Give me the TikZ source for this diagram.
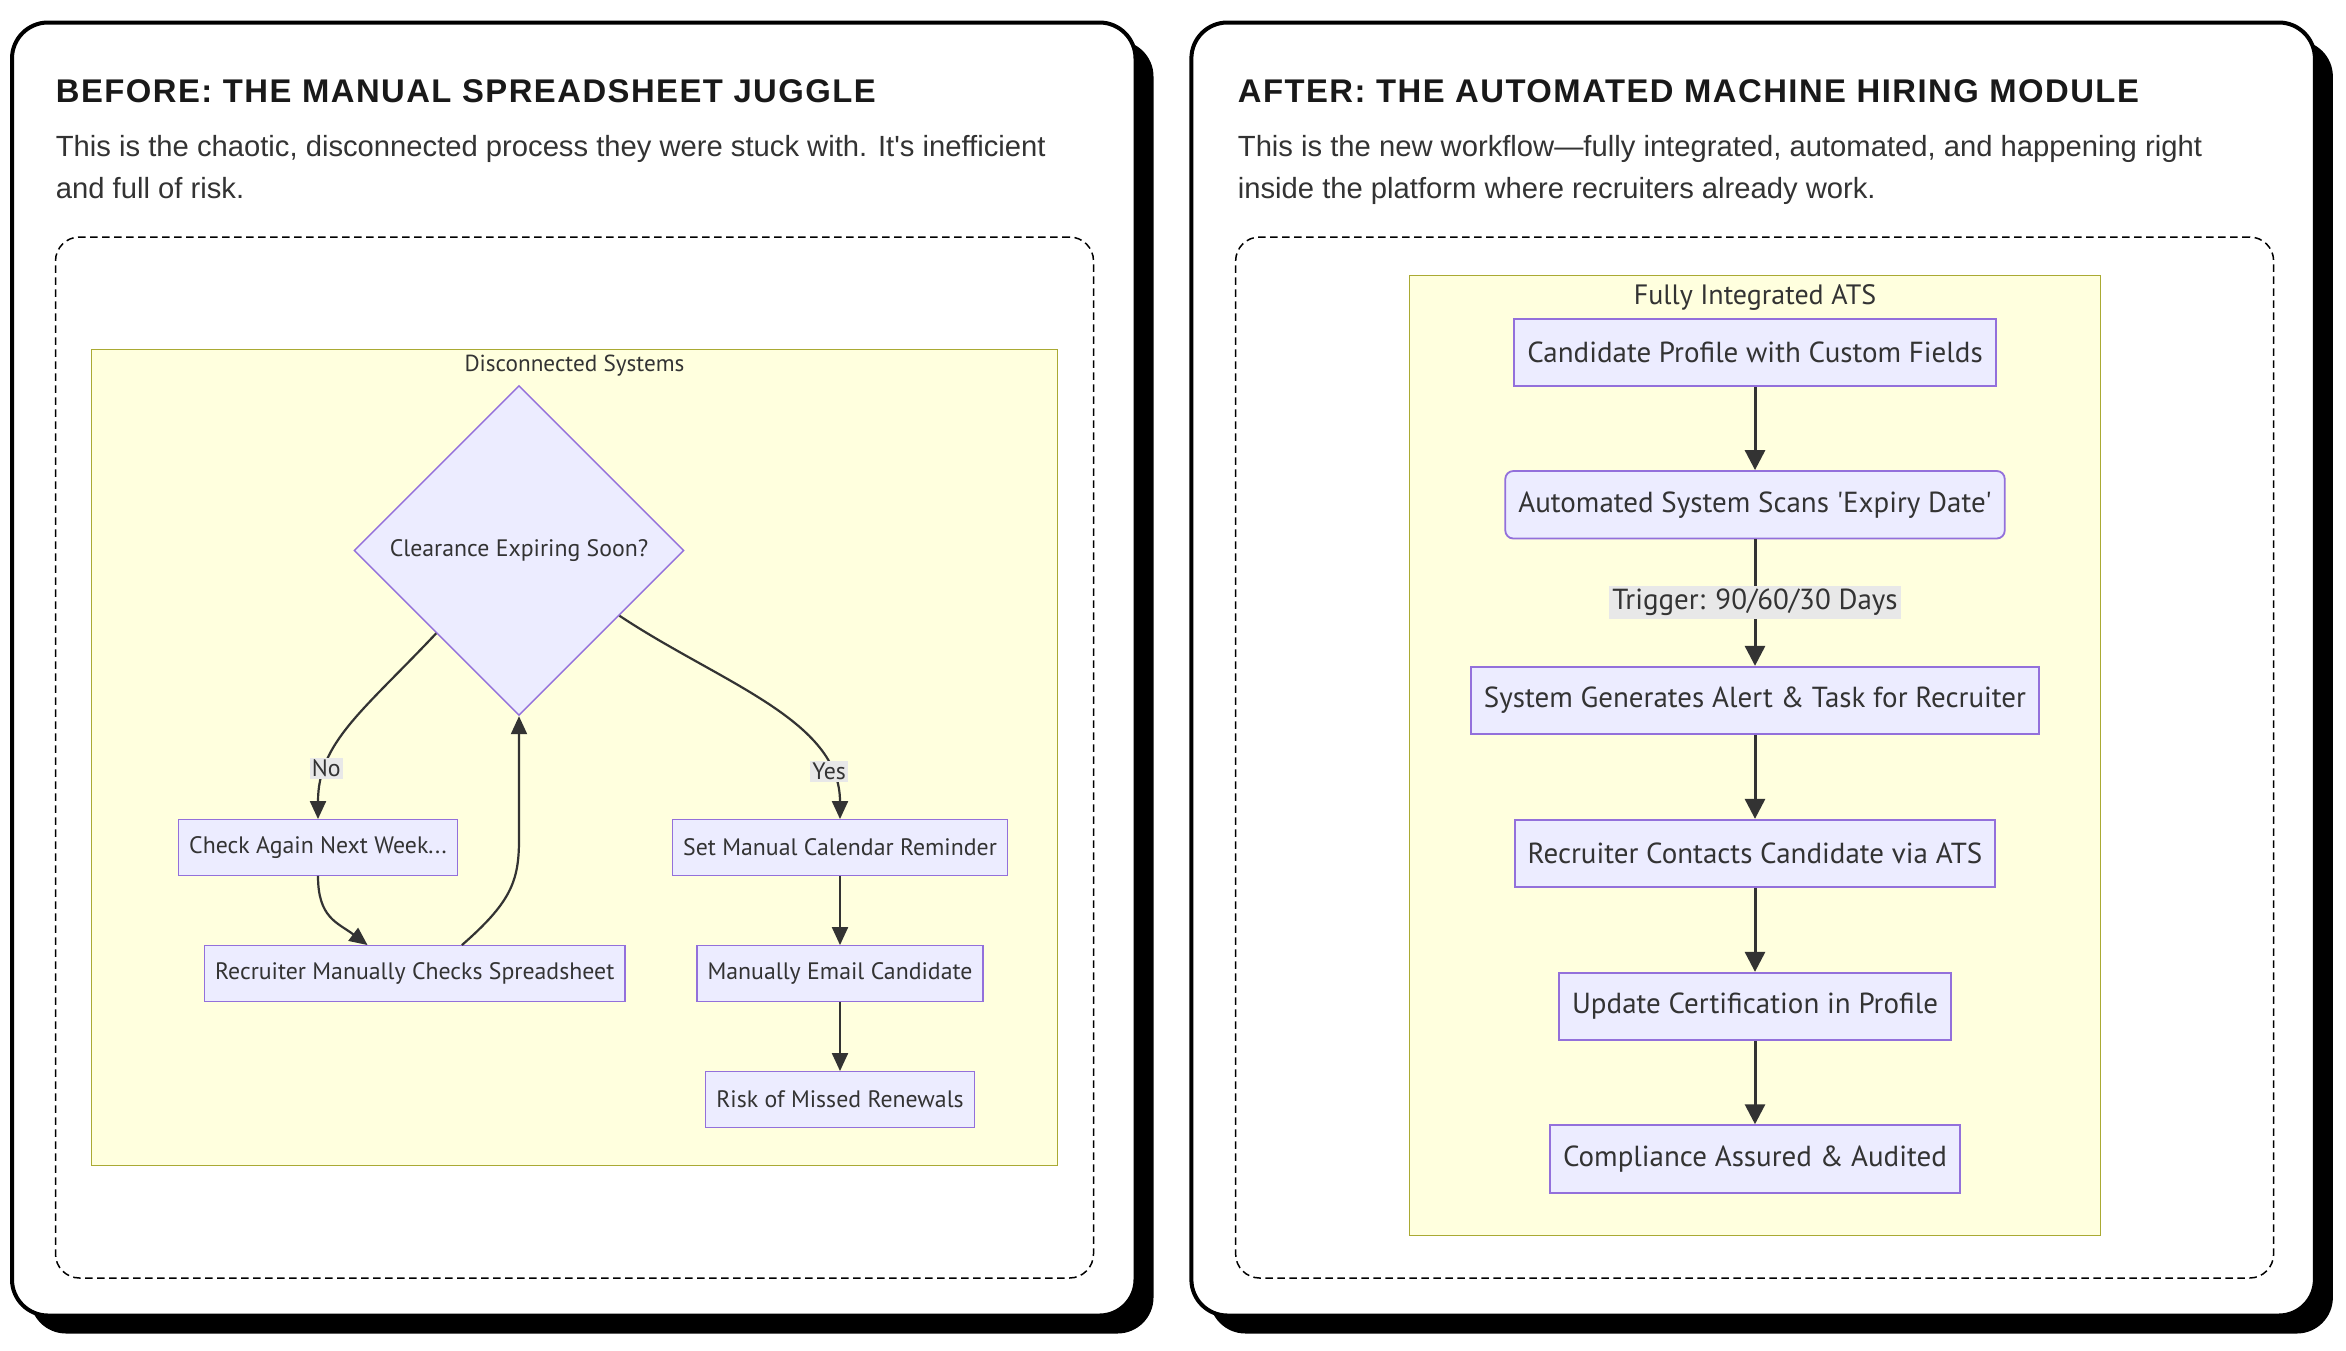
\documentclass[tikz,border=0pt]{standalone}
\usepackage{fontspec}
\setmainfont{Liberation Sans}
\newfontfamily\headfont[LetterSpace=4.5]{Liberation Sans}
\newfontfamily\flowfont{PT Sans}
\usepackage{xcolor}
\usepackage{tikz}
\usetikzlibrary{shapes.geometric, arrows.meta, positioning, shadows}

\definecolor{nodefill}{HTML}{ECECFF}
\definecolor{nodeline}{HTML}{9370DB}
\definecolor{clusterfill}{HTML}{FFFFDE}
\definecolor{clusterline}{HTML}{AAAA33}
\definecolor{edgeline}{HTML}{333333}
\definecolor{labelbg}{HTML}{E8E8E8}
\definecolor{bodytext}{HTML}{333333}

\begin{document}
\begin{tikzpicture}[
    x=0.75pt, y=-0.75pt,
    cardbox/.style={
        rectangle,
        minimum width=561.75pt, minimum height=646.5pt,
        draw=black,
        line width=2pt,
        fill=white,
        rounded corners=18pt,
        drop shadow={fill=black, opacity=1, shadow xshift=9pt, shadow yshift=-9pt}
    },
    framebox/.style={
        rectangle,
        minimum width=519pt, minimum height=520.5pt,
        draw=black,
        line width=0.75pt,
        dash pattern=on 3.75pt off 2.25pt,
        rounded corners=12pt
    },
    clusterbox/.style={
        rectangle,
        draw=clusterline,
        fill=clusterfill,
        line width=0.8pt
    },
    headline/.style={
        anchor=base west,
        inner sep=0pt,
        font=\headfont\bfseries\fontsize{16.4}{19}\selectfont,
        text=black!90
    },
    blurb/.style={
        anchor=base west,
        inner sep=0pt,
        align=left,
        font=\fontsize{14.6}{21}\selectfont,
        text=bodytext
    },
    clustertext/.style={font=\flowfont\fontsize{11.6}{13}\selectfont, text=edgeline},
    bigclustertext/.style={font=\flowfont\fontsize{14}{16}\selectfont, text=edgeline},
    decision/.style={
        diamond,
        aspect=1,
        minimum size=165pt,
        inner sep=0pt,
        draw=nodeline,
        fill=nodefill,
        line width=0.7pt,
        font=\flowfont\fontsize{11.9}{13}\selectfont,
        text=edgeline
    },
    smallstep/.style={
        rectangle,
        minimum height=27.75pt,
        inner xsep=5.25pt,
        draw=nodeline,
        fill=nodefill,
        line width=0.7pt,
        font=\flowfont\fontsize{11.9}{13}\selectfont,
        text=edgeline
    },
    bigstep/.style={
        rectangle,
        minimum height=33.75pt,
        inner xsep=6.5pt,
        draw=nodeline,
        fill=nodefill,
        line width=0.9pt,
        font=\flowfont\fontsize{14.5}{16}\selectfont,
        text=edgeline
    },
    smallarrow/.style={draw=edgeline, line width=1.1pt, -{Triangle[length=9pt, width=8pt]}},
    bigarrow/.style={draw=edgeline, line width=1.5pt, -{Triangle[length=10pt, width=10pt]}},
    smalllabel/.style={fill=labelbg, inner sep=1pt, font=\flowfont\fontsize{11.9}{13}\selectfont, text=edgeline},
    biglabel/.style={fill=labelbg, inner sep=1.5pt, font=\flowfont\fontsize{14.5}{16}\selectfont, text=edgeline}
]

\useasboundingbox (0,0) rectangle (1564,900);

\node[cardbox] (beforecard) at (382.5,446) {};
\node[cardbox] (aftercard) at (1168.75,446) {};

\node[headline] (beforetitle) at (37,68) {BEFORE: THE MANUAL SPREADSHEET JUGGLE};
\node[blurb] (beforetext) at (37,132) {This is the chaotic, disconnected process they were stuck with. It\textquotesingle s inefficient\\and full of risk.};

\node[headline] (aftertitle) at (825,68) {AFTER: THE AUTOMATED MACHINE HIRING MODULE};
\node[blurb] (aftertext) at (825,132) {This is the new workflow—fully integrated, automated, and happening right\\inside the platform where recruiters already work.};

\node[framebox] (beforeframe) at (383,505) {};
\node[framebox] (afterframe) at (1169.75,505) {};

\node[clusterbox, minimum width=483pt, minimum height=408pt] (disconnected) at (383,505) {};
\node[clustertext] at (383,244) {Disconnected Systems};

\node[clusterbox, minimum width=345.4pt, minimum height=480pt] (integrated) at (1170,503.6) {};
\node[bigclustertext] at (1170,198) {Fully Integrated ATS};

\node[decision] (expiring) at (346,367) {Clearance Expiring Soon?};
\node[smallstep] (checkagain) at (212,565) {Check Again Next Week...};
\node[smallstep] (manualcheck) at (276.5,649) {Recruiter Manually Checks Spreadsheet};
\node[smallstep] (reminder) at (560,565) {Set Manual Calendar Reminder};
\node[smallstep] (emailcand) at (560,649) {Manually Email Candidate};
\node[smallstep] (missed) at (560,733) {Risk of Missed Renewals};

\draw[smallarrow] (expiring.south west) .. controls (242,474) and (212,495) .. (checkagain.north)
    node[smalllabel, pos=0.75] {No};
\draw[smallarrow] (expiring.-33) .. controls (480,455) and (560,480) .. (reminder.north)
    node[smalllabel, pos=0.82] {Yes};
\draw[smallarrow] (checkagain.south) .. controls (212,612) and (225,615) .. ([xshift=-23.6pt]manualcheck.north);
\draw[smallarrow] ([xshift=23.6pt]manualcheck.north) .. controls (340,602) and (346,588) .. (346,560) -- (expiring.south);
\draw[smallarrow] (reminder.south) -- (emailcand.north);
\draw[smallarrow] (emailcand.south) -- (missed.north);

\node[bigstep] (profile) at (1170,235) {Candidate Profile with Custom Fields};
\node[bigstep, rounded corners=4pt] (scan) at (1170,336.5) {Automated System Scans 'Expiry Date'};
\node[bigstep] (alert) at (1170,467) {System Generates Alert \& Task for Recruiter};
\node[bigstep] (contact) at (1170,569) {Recruiter Contacts Candidate via ATS};
\node[bigstep] (update) at (1170,671) {Update Certification in Profile};
\node[bigstep] (assured) at (1170,772.6) {Compliance Assured \& Audited};

\draw[bigarrow] (profile.south) -- (scan.north);
\draw[bigarrow] (scan.south) -- node[biglabel] {Trigger: 90/60/30 Days} (alert.north);
\draw[bigarrow] (alert.south) -- (contact.north);
\draw[bigarrow] (contact.south) -- (update.north);
\draw[bigarrow] (update.south) -- (assured.north);

\end{tikzpicture}
\end{document}
